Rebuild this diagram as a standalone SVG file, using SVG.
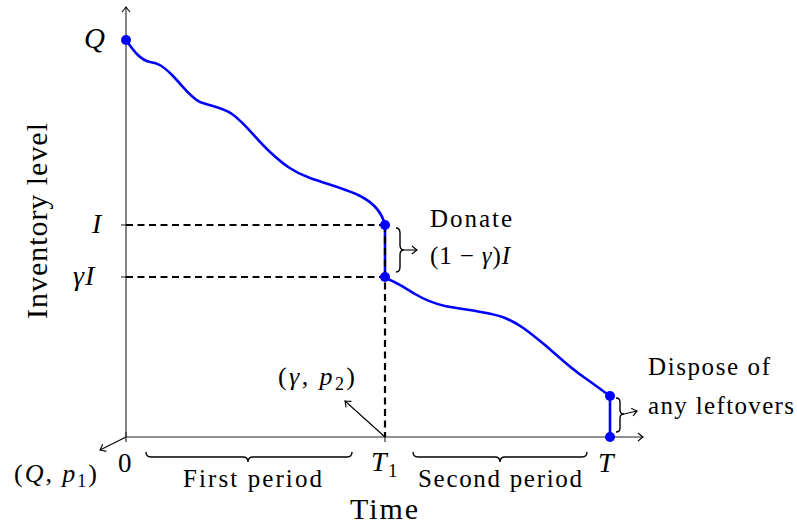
<svg xmlns="http://www.w3.org/2000/svg" width="797" height="527" viewBox="0 0 797 527">
<defs>
<marker id="arr" viewBox="-6 -5 8 10" refX="0" refY="0" markerWidth="8" markerHeight="10" markerUnits="userSpaceOnUse" orient="auto">
<path d="M-5,-4 Q-1.5,-1 0,0 Q-1.5,1 -5,4" fill="none" stroke="#000" stroke-width="1.1"/>
</marker>
</defs>
<style>
.ax{stroke:#222;stroke-width:1.1;fill:none}
.dash{stroke:#000;stroke-width:2.2;stroke-dasharray:7 4.5;fill:none}
.curve{stroke:#0000ff;stroke-width:2.6;fill:none}
.dot{fill:#0000ff}
.brace{stroke:#000;stroke-width:1.4;fill:none}
.thin{stroke:#000;stroke-width:1.1;fill:none}
text{fill:#000}
.m{font-style:italic}
</style>

<g id="axes">
<line class="ax" x1="126" y1="437" x2="126" y2="7" marker-end="url(#arr)"/>
<line class="ax" x1="126" y1="437" x2="643" y2="437" marker-end="url(#arr)"/>
<line class="ax" x1="121" y1="225" x2="131" y2="225"/>
<line class="ax" x1="121" y1="277" x2="131" y2="277"/>
<line class="ax" x1="385" y1="432" x2="385" y2="442"/>
<line class="ax" x1="126" y1="432" x2="126" y2="442"/>
</g>

<g id="curves">
<path class="curve" d="M126,40 C133,50 140,60 150,62 C158,63 163,66 172,75 C182,85 190,97 200,102 C210,106 222,107 232,114 C245,123 255,138 270,152 C283,164 293,172 310,178 C330,185 350,190 362,197 C375,204 382,213 385,225"/>
<line class="curve" x1="385" y1="225" x2="385" y2="277"/>
<path class="curve" d="M385,278 C395,281 405,288 415,294 C425,300 432,303 445,306 C465,310 490,312 505,318 C520,324 530,333 545,345 C560,358 570,368 585,378 C595,385 603,391 610,396"/>
<line class="curve" x1="610" y1="396" x2="610" y2="437"/>
</g>

<g id="connectors">
<line class="dash" x1="126" y1="225" x2="385" y2="225"/>
<line class="dash" x1="126" y1="277" x2="385" y2="277"/>
<line class="dash" x1="385" y1="225" x2="385" y2="437"/>
<line class="thin" x1="385" y1="437" x2="345" y2="401" marker-end="url(#arr)"/>
<line class="thin" x1="126" y1="437" x2="100" y2="450" marker-end="url(#arr)"/>
<path class="brace" d="M396,228 Q400,228 400,233 L400,245 Q400,250 404,250 Q400,250 400,255 L400,267 Q400,272 396,272"/>
<line class="thin" x1="404" y1="250" x2="417" y2="250" marker-end="url(#arr)"/>
<path class="brace" d="M616,398 Q620,398 620,402 L620,410 Q620,414 624,414 Q620,414 620,418 L620,428 Q620,432 616,432"/>
<line class="thin" x1="624" y1="414" x2="637" y2="411" marker-end="url(#arr)"/>
<path class="brace" d="M146,452 Q146,457 151,457 L243,457 Q248,457 248,462 Q248,457 253,457 L347,457 Q352,457 352,452"/>
<path class="brace" d="M413,452 Q413,457 418,457 L495,457 Q500,457 500,462 Q500,457 505,457 L582,457 Q587,457 587,452"/>
</g>

<g id="points">
<circle class="dot" cx="126" cy="40" r="5"/>
<circle class="dot" cx="385" cy="225" r="5"/>
<circle class="dot" cx="385" cy="277" r="5"/>
<circle class="dot" cx="610" cy="396" r="5"/>
<circle class="dot" cx="610" cy="437" r="5"/>
</g>

<g id="labels" font-family="Liberation Serif, Times New Roman, serif">
<text class="m" x="84" y="48" font-size="29">Q</text>
<text class="m" x="92" y="233" font-size="28">I</text>
<text class="m" x="73" y="285" font-size="28">γ<tspan dx="1">I</tspan></text>
<text x="118" y="472" font-size="27">0</text>
<text class="m" x="371" y="471" font-size="28">T</text><text x="388" y="477" font-size="19">1</text>
<text class="m" x="598" y="472" font-size="28">T</text>
<text x="384" y="519" font-size="30" text-anchor="middle" textLength="68" lengthAdjust="spacing">Time</text>
<text transform="translate(47,221) rotate(-90)" x="0" y="0" font-size="30" text-anchor="middle" textLength="196" lengthAdjust="spacing">Inventory level</text>
<text x="430" y="227" font-size="25" textLength="82" lengthAdjust="spacing">Donate</text>
<text x="430" y="264" font-size="25" textLength="80" lengthAdjust="spacing">(1 − <tspan class="m">γ</tspan>)<tspan class="m">I</tspan></text>
<text x="648" y="375" font-size="25" textLength="122" lengthAdjust="spacing">Dispose of</text>
<text x="648" y="414" font-size="25" textLength="146" lengthAdjust="spacing">any leftovers</text>
<text x="183" y="487" font-size="25" textLength="139" lengthAdjust="spacing">First period</text>
<text x="418" y="487" font-size="25" textLength="164" lengthAdjust="spacing">Second period</text>
<text x="278" y="385" font-size="26" textLength="77" lengthAdjust="spacing">(<tspan class="m">γ</tspan>, <tspan class="m">p</tspan><tspan font-size="18" dy="5">2</tspan><tspan dy="-5">)</tspan></text>
<text x="14" y="482" font-size="26" textLength="83" lengthAdjust="spacing">(<tspan class="m">Q</tspan>, <tspan class="m">p</tspan><tspan font-size="18" dy="5">1</tspan><tspan dy="-5">)</tspan></text>
</g>
</svg>
